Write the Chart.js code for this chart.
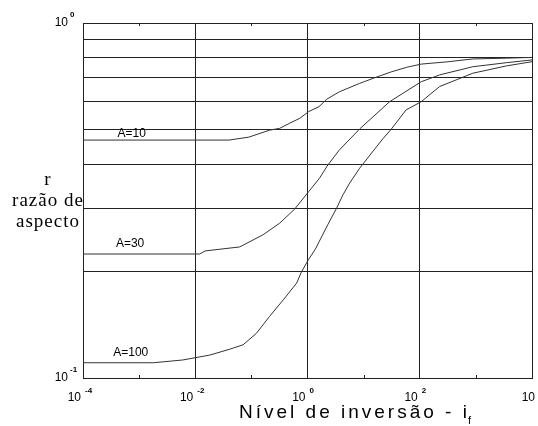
<!DOCTYPE html>
<html>
<head>
<meta charset="utf-8">
<script src="https://cdn.jsdelivr.net/npm/chart.js@4/dist/chart.umd.min.js"></script>
<style>
  html, body { margin: 0; padding: 0; background: #fff; }
  canvas { display: block; }
</style>
</head>
<body>
<canvas id="c" width="538" height="426"></canvas>
<script>
// inversion level (x) and aspect ratio r (y)
const ifA10 = [1e-4, 0.04, 0.09, 0.21, 0.32, 0.48, 0.73, 1.05, 1.6, 2.2, 3.7, 8.5, 15, 30, 58, 106, 300, 880, 3500, 1e4];
const rA10  = [0.468, 0.468, 0.477, 0.499, 0.505, 0.522, 0.539, 0.563, 0.581, 0.610, 0.640, 0.676, 0.699, 0.727, 0.750, 0.766, 0.777, 0.792, 0.796, 0.800];

const ifA30 = [1e-4, 0.012, 0.015, 0.062, 0.16, 0.32, 0.59, 1.05, 1.63, 2.3, 3.7, 8.5, 29, 106, 225, 880, 3500, 1e4];
const rA30  = [0.2235, 0.2235, 0.228, 0.234, 0.253, 0.273, 0.299, 0.335, 0.365, 0.398, 0.439, 0.503, 0.600, 0.683, 0.714, 0.753, 0.773, 0.787];

const ifA100 = [1e-4, 0.0018, 0.006, 0.018, 0.041, 0.071, 0.123, 0.21, 0.37, 0.64, 0.78, 1.05, 1.39, 1.63, 2.32, 3.27, 4.28, 5.64, 8.5, 22, 31, 57, 106, 225, 880, 3500, 1e4];
const rA100  = [0.1104, 0.1104, 0.1124, 0.116, 0.1205, 0.124, 0.1336, 0.149, 0.166, 0.185, 0.199, 0.216, 0.231, 0.243, 0.271, 0.300, 0.328, 0.354, 0.390, 0.472, 0.502, 0.569, 0.600, 0.662, 0.722, 0.757, 0.778];

const seriesNames = ['A=10', 'A=30', 'A=100'];
const labelAt = [7.4e-4, 6.9e-4, 7.1e-4];   // x where each curve label sits
const labelGap = [3, 7, 7];                  // px above the curve

const xMajor = [1e-4, 1e-2, 1, 1e2, 1e4];
const xMinor = [1e-3, 1e-1, 1e1, 1e3];
const xExp = ['-4', '-2', '0', '2', ''];
const yGrid = [0.1, 0.2, 0.3, 0.4, 0.5, 0.6, 0.7, 0.8, 0.9, 1];
const yLabeled = [1, 0.1];
const yExp = ['0', '-1'];

const ink = '#222';

function pts(xs, ys) {
  return xs.map((x, i) => ({x: x, y: ys[i]}));
}

const datasets = [
  pts(ifA10, rA10), pts(ifA30, rA30), pts(ifA100, rA100)
].map((d, i) => ({
  label: seriesNames[i],
  data: d,
  borderColor: '#333',
  borderWidth: 1,
  pointRadius: 0,
  tension: 0,
  fill: false
}));

const decor = {
  id: 'decor',
  afterDraw(chart) {
    const ctx = chart.ctx;
    const xs = chart.scales.x, ys = chart.scales.y;
    const a = chart.chartArea;
    ctx.save();
    ctx.strokeStyle = ink;
    ctx.lineWidth = 1;
    // small ticks at odd decades
    xMinor.forEach(v => {
      const p = Math.round(xs.getPixelForValue(v)) + 0.5;
      ctx.beginPath();
      ctx.moveTo(p, a.bottom); ctx.lineTo(p, a.bottom - 3);
      ctx.moveTo(p, a.top); ctx.lineTo(p, a.top + 3);
      ctx.stroke();
    });

    ctx.fillStyle = '#000';
    ctx.textBaseline = 'middle';
    // y tick labels 10^n
    yLabeled.forEach((v, i) => {
      const p = ys.getPixelForValue(v);
      ctx.font = '12px "Liberation Sans", Arial, sans-serif';
      ctx.textAlign = 'right';
      ctx.fillText('10', 68, p);
      ctx.font = 'bold 8px "Liberation Sans", Arial, sans-serif';
      ctx.textAlign = 'left';
      ctx.fillText(yExp[i], 70, p - 8);
    });
    // x tick labels 10^n
    xMajor.forEach((v, i) => {
      const p = xs.getPixelForValue(v);
      ctx.font = '12px "Liberation Sans", Arial, sans-serif';
      ctx.textAlign = 'right';
      ctx.fillText('10', xExp[i] ? p - 2 : p + 3, a.bottom + 20);
      if (xExp[i]) {
        ctx.font = 'bold 8px "Liberation Sans", Arial, sans-serif';
        ctx.textAlign = 'left';
        ctx.fillText(xExp[i], p + 2, a.bottom + 13);
      }
    });

    // curve labels
    ctx.font = '12px "Liberation Sans", Arial, sans-serif';
    ctx.textAlign = 'center';
    ctx.textBaseline = 'alphabetic';
    chart.data.datasets.forEach((ds, i) => {
      const px = xs.getPixelForValue(labelAt[i]);
      const py = ys.getPixelForValue(ds.data[0].y) - labelGap[i];
      ctx.fillText(ds.label, px, py);
    });

    // x axis title with subscript
    ctx.textAlign = 'left';
    ctx.font = '19px "Liberation Sans", Arial, sans-serif';
    ctx.letterSpacing = '3px';
    const t = 'Nível de inversão - i';
    const x0 = 239;
    ctx.fillText(t, x0, 418);
    const w = ctx.measureText(t).width;
    ctx.letterSpacing = '0px';
    ctx.font = '11px "Liberation Sans", Arial, sans-serif';
    ctx.fillText('f', x0 + w - 2, 424);

    // y axis title
    ctx.font = '19px "Liberation Serif", "Times New Roman", serif';
    ctx.letterSpacing = '1px';
    ctx.textAlign = 'center';
    ctx.fillText('r', 48, 185);
    ctx.fillText('razão de', 48, 206);
    ctx.fillText('aspecto', 48, 227);
    ctx.restore();
  }
};

new Chart(document.getElementById('c'), {
  type: 'line',
  data: {datasets: datasets},
  options: {
    responsive: false,
    animation: false,
    devicePixelRatio: 1,
    parsing: false,
    layout: {padding: {left: 83, right: 6, top: 23, bottom: 48}},
    plugins: {legend: {display: false}, tooltip: {enabled: false}},
    scales: {
      x: {
        type: 'logarithmic',
        min: 1e-4,
        max: 1e4,
        afterBuildTicks: s => { s.ticks = xMajor.map(v => ({value: v})); },
        ticks: {display: false},
        grid: {color: ink, lineWidth: 1, drawTicks: false},
        border: {color: ink, width: 1}
      },
      y: {
        type: 'logarithmic',
        min: 0.1,
        max: 1,
        afterBuildTicks: s => { s.ticks = yGrid.map(v => ({value: v})); },
        ticks: {display: false},
        grid: {color: ink, lineWidth: 1, drawTicks: false},
        border: {color: ink, width: 1}
      }
    }
  },
  plugins: [decor]
});
</script>
</body>
</html>
